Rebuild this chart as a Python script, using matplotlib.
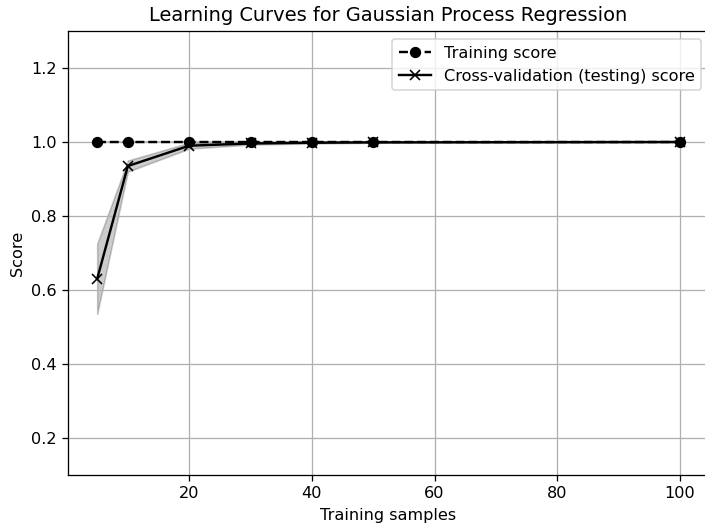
import numpy as np
import matplotlib
matplotlib.use("Agg")
import matplotlib.pyplot as plt

# learning curve results (mean / std over CV folds)
train_sizes = [5, 10, 20, 30, 40, 50, 100]
train_mean = [1.0, 1.0, 1.0, 1.0, 1.0, 1.0, 1.0]
train_std = [0.0, 0.0, 0.0, 0.0, 0.0, 0.0, 0.0]
test_mean = [0.630, 0.935, 0.990, 0.996, 0.998, 0.999, 1.0]
test_std = [0.095, 0.015, 0.008, 0.003, 0.002, 0.001, 0.0]

train_sizes = np.array(train_sizes)
train_mean = np.array(train_mean)
train_std = np.array(train_std)
test_mean = np.array(test_mean)
test_std = np.array(test_std)

dpi = 116
fig = plt.figure(figsize=(705 / dpi, 530 / dpi), dpi=dpi)
# the axes run slightly past the right edge of the canvas
ax = fig.add_axes([0.0965, 0.1038, 0.9092, 0.8377])

ax.fill_between(train_sizes, train_mean - train_std, train_mean + train_std,
                alpha=0.2, color="k")
ax.fill_between(train_sizes, test_mean - test_std, test_mean + test_std,
                alpha=0.2, color="k")
ax.plot(train_sizes, train_mean, "o--", color="k", label="Training score")
ax.plot(train_sizes, test_mean, "x-", color="k",
        label="Cross-validation (testing) score")

ax.set_xlim(0.25, 104.75)
ax.set_ylim(0.1, 1.3)
ax.set_xticks([20, 40, 60, 80, 100])
ax.set_yticks([0.2, 0.4, 0.6, 0.8, 1.0, 1.2])
ax.grid(True)
ax.set_title("Learning Curves for Gaussian Process Regression", fontsize=12)
ax.set_xlabel("Training samples")
ax.set_ylabel("Score")
ax.legend(loc="best")

fig.savefig("out.png", dpi=dpi)
